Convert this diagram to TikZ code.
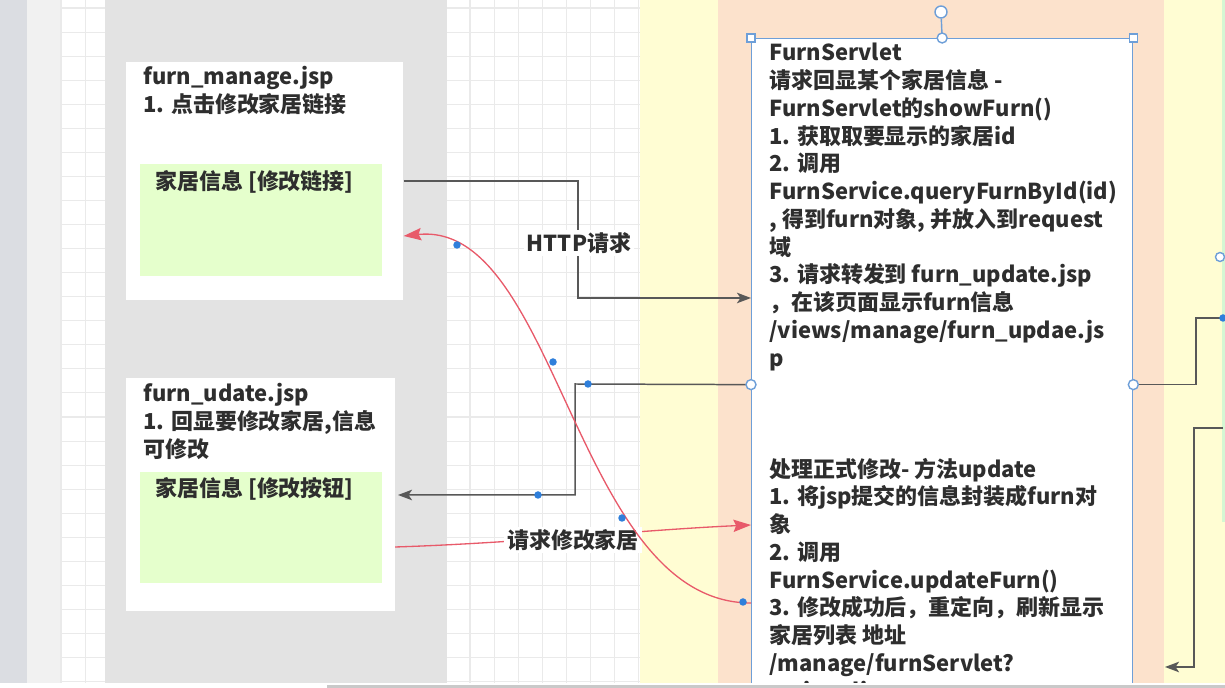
\documentclass[tikz,border=0pt]{standalone}
\usepackage{fontspec}
\setmainfont{Noto Sans CJK SC}
\usetikzlibrary{arrows.meta}

\definecolor{sidegray}{HTML}{DBDDE2}
\definecolor{sidelight}{HTML}{F1F1F1}
\definecolor{gridgray}{HTML}{EAEAEA}
\definecolor{lanegray}{HTML}{E3E3E3}
\definecolor{laneyellow}{HTML}{FFFDD3}
\definecolor{lanepeach}{HTML}{FCE2CC}
\definecolor{cellgreen}{HTML}{E5FFCC}
\definecolor{stripgreen}{HTML}{D5F7D3}
\definecolor{textgray}{HTML}{2E2E2E}
\definecolor{linegray}{HTML}{585858}
\definecolor{redline}{HTML}{E85A6A}
\definecolor{boxblue}{HTML}{6E9FD8}
\definecolor{dotblue}{HTML}{2F7FDB}
\definecolor{barcolor}{HTML}{C9C9C9}

\tikzset{
  txt/.style={anchor=north west, inner sep=0pt, align=left, text=textgray,
    font=\fontsize{12.5}{15.8}\selectfont\bfseries},
  lbl/.style={fill=white, inner sep=1.5pt, text=textgray,
    font=\fontsize{12.5}{15}\selectfont\bfseries},
  pagebox/.style={fill=white, anchor=north west, inner sep=0pt},
  cell/.style={fill=cellgreen, anchor=north west, inner sep=0pt},
  conn/.style={draw=linegray, line width=0.85pt},
  connarr/.style={conn, -{Stealth[length=8pt,width=6pt,inset=2pt]}},
  redconn/.style={draw=redline, line width=0.75pt, -{Stealth[length=10pt,width=7pt,inset=1.5pt]}},
  wp/.style={circle, fill=dotblue, inner sep=0pt, minimum size=0.15cm},
  ring/.style={circle, draw=boxblue, fill=white, line width=0.8pt, inner sep=0pt, minimum size=0.2cm},
  corner/.style={rectangle, draw=boxblue, fill=white, line width=0.8pt, inner sep=0pt, minimum size=0.16cm}
}

\begin{document}
\begin{tikzpicture}[x=0.02cm, y=-0.02cm]
  \useasboundingbox (0,0) rectangle (1225,688);
  \clip (0,0) rectangle (1225,688);

  % lanes and grid
  \fill[sidegray] (0,0) rectangle (27,688);
  \fill[sidelight] (27,0) rectangle (60,688);
  \fill[white] (60,0) rectangle (640,688);
  \foreach \i in {0,...,24}
    \draw[gridgray, line width=0.6pt] ({61+24.06*\i},0) -- ({61+24.06*\i},688);
  \foreach \j in {0,...,28}
    \draw[gridgray, line width=0.6pt] (60,{8+24.06*\j}) -- (640,{8+24.06*\j});
  \fill[lanegray] (105,0) rectangle (447,688);
  \fill[laneyellow] (640,0) rectangle (1225,688);
  \fill[lanepeach] (718,0) rectangle (1164,688);
  \fill[stripgreen] (1222,0) rectangle (1225,522);

  % jsp pages
  \node[pagebox, minimum width=5.54cm, minimum height=4.76cm] (managebox) at (126,62) {};
  \node[cell, minimum width=4.84cm, minimum height=2.24cm] (linkcell) at (140,164) {};
  \node[txt] (managetxt) at (143,65) {\strut furn\_manage.jsp\\1. 点击修改家居链接};
  \node[txt] (linktxt) at (155,170) {\strut 家居信息 [修改链接]};

  \node[pagebox, minimum width=5.37cm, minimum height=4.66cm] (udatebox) at (126,378) {};
  \node[cell, minimum width=4.84cm, minimum height=2.22cm] (btncell) at (140,472) {};
  \node[txt] (udatetxt) at (143,382) {\strut furn\_udate.jsp\\1. 回显要修改家居,信息\\可修改};
  \node[txt] (btntxt) at (155,477) {\strut 家居信息 [修改按钮]};

  % servlet
  \node[pagebox, draw=boxblue, line width=0.8pt, minimum width=7.62cm, minimum height=13.84cm] (servlet) at (751,38) {};
  \node[txt] (servlettxt) at (769,41) {\strut FurnServlet\\
    请求回显某个家居信息 -\\
    FurnServlet的showFurn()\\
    1. 获取取要显示的家居id\\
    2. 调用\\
    FurnService.queryFurnById(id)\\
    , 得到furn对象, 并放入到request\\
    域\\
    3. 请求转发到 furn\_update.jsp\\
    ，在该页面显示furn信息\\
    /views/manage/furn\_updae.js\\
    p\\
    \mbox{}\\
    \mbox{}\\
    \mbox{}\\
    处理正式修改- 方法update\\
    1. 将jsp提交的信息封装成furn对\\
    象\\
    2. 调用\\
    FurnService.updateFurn()\\
    3. 修改成功后，重定向，刷新显示\\
    家居列表 地址\\
    /manage/furnServlet?\\
    action=list};

  % connectors
  \coordinate (rightA) at (1223,318);
  \coordinate (rightB) at (1223,428);
  \coordinate (rightC) at (1165,667);
  \draw[connarr] (managebox.east |- 0,181) -| (578,298) -- (servlet.west |- 0,298);
  \draw[connarr] (servlet.west) -- (575,384) -- (575,495) -- (398,495);
  \draw[conn] (servlet.east) -| (1196,318) -- (rightA);
  \draw[connarr] (rightB) -| (1194,667) -- (rightC);
  \draw[redconn] (udatebox.east |- 0,547) .. controls (520,543) and (640,530) .. (servlet.west |- 0,525);
  \node[lbl] (httplbl) at (579,243) {HTTP请求};
  \node[lbl] (updlbl) at (573,540) {请求修改家居};
  \draw[redconn] (servlet.west |- 0,603) .. controls (575,603) and (558,220) .. (managebox.east |- 0,236);

  % edit handles
  \node[ring, minimum size=0.24cm] (rot) at (941,12) {};
  \draw[boxblue, line width=0.8pt] (rot) -- (servlet.north);
  \node[corner] (cnw) at (servlet.north west) {};
  \node[corner] (cne) at (servlet.north east) {};
  \node[ring] (cn) at (servlet.north) {};
  \node[ring] (cw) at (servlet.west) {};
  \node[ring] (ce) at (servlet.east) {};
  \node[ring, minimum size=0.18cm] (cr) at (1220,257) {};
  \node[wp] (wpa) at (457,245) {};
  \node[wp] (wpb) at (553,362) {};
  \node[wp] (wpc) at (622,518) {};
  \node[wp] (wpd) at (743,602) {};
  \node[wp] (wpe) at (588,384) {};
  \node[wp] (wpf) at (538,495) {};
  \node[wp] (wpg) at (1223,318) {};

  % bottom edge
  \fill[white] (0,683) rectangle (1225,688);
  \fill[barcolor] (327,685.5) rectangle (1225,688);
\end{tikzpicture}
\end{document}
